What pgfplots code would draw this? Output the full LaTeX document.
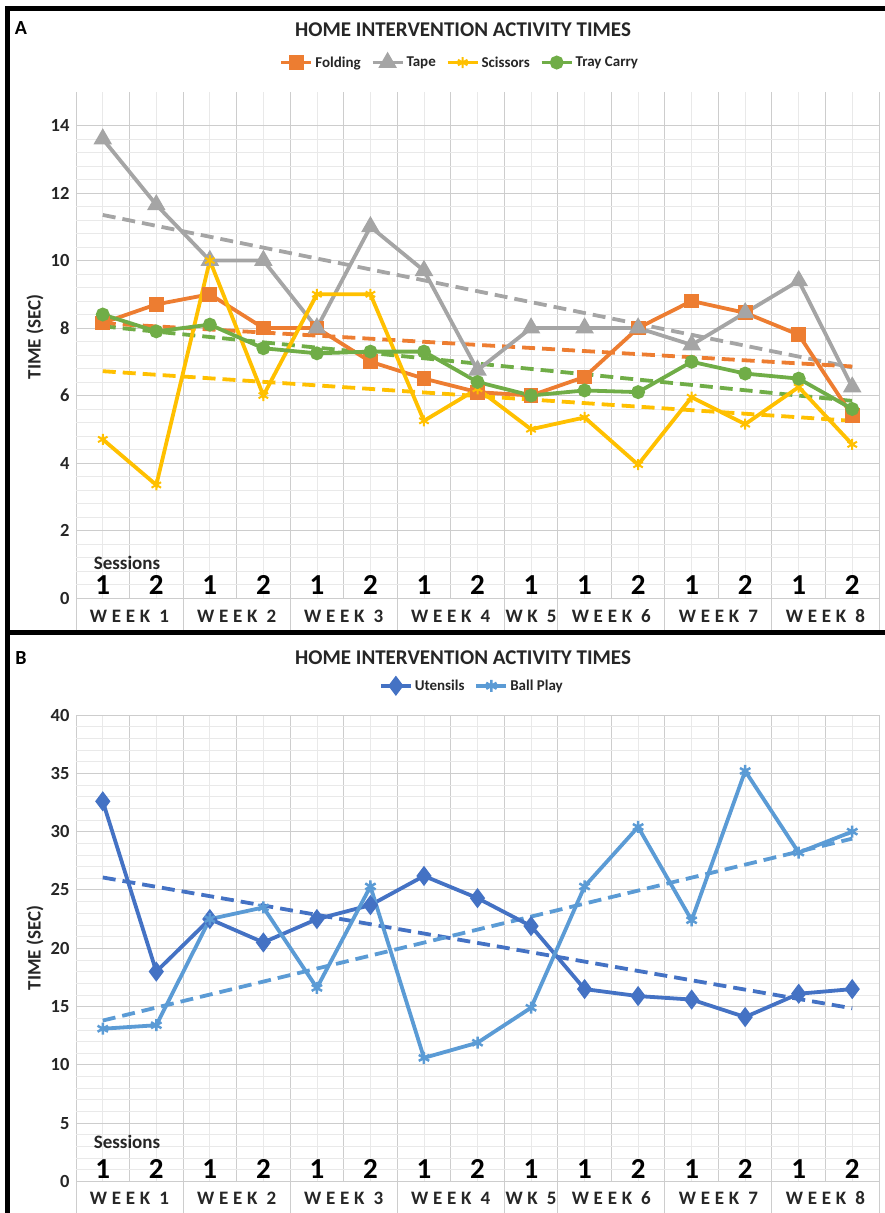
\documentclass[border=0pt]{standalone}
\usepackage{fontspec}
\setmainfont{Carlito}
\newfontfamily\weekfont[LetterSpace=25]{Carlito}
\usepackage{pgfplots}
\usepackage{pgfplotstable}
\pgfplotsset{compat=1.18}

\definecolor{cFold}{HTML}{ED7D31}
\definecolor{cTape}{HTML}{A5A5A5}
\definecolor{cSci}{HTML}{FFC000}
\definecolor{cTray}{HTML}{70AD47}
\definecolor{cUt}{HTML}{4472C4}
\definecolor{cBall}{HTML}{5B9BD5}
\definecolor{gridmaj}{HTML}{CDCDCD}
\definecolor{gridmin}{HTML}{E9E9E9}

\pgfplotstableread{
x fold tape sci tray
0  8.15 13.6  4.7  8.4
1  8.7  11.65 3.35 7.9
2  9.0  10.0 10.0  8.1
3  8.0  10.0  6.0  7.4
4  8.0   8.0  9.0  7.25
5  7.0  11.0  9.0  7.3
6  6.5   9.7  5.25 7.3
7  6.1   6.75 6.2  6.4
8  6.0   8.0  5.0  6.0
9  6.55  8.0  5.35 6.15
10 8.0   8.0  3.95 6.1
11 8.8   7.5  5.95 7.0
12 8.45  8.45 5.15 6.65
13 7.8   9.4  6.25 6.5
14 5.4   6.25 4.55 5.6
}\dataA

\pgfplotstableread{
x uten ball
0  32.6 13.1
1  18.0 13.4
2  22.5 22.5
3  20.5 23.5
4  22.5 16.6
5  23.7 25.3
6  26.2 10.6
7  24.3 11.9
8  21.9 14.9
9  16.5 25.3
10 15.9 30.4
11 15.6 22.4
12 14.1 35.2
13 16.1 28.2
14 16.5 30.0
}\dataB

\pgfplotsset{
  panel/.style={
    scale only axis, width=803pt,
    xmin=-0.5, xmax=14.5, ymin=0,
    clip=false,
    axis line style={draw=none},
    major tick length=0pt, minor tick length=0pt,
    xtick={-0.5,0.5,...,14.5}, xticklabels={},
    minor xtick={0,1,...,14},
    xmajorgrids, xminorgrids, ymajorgrids, yminorgrids,
    major grid style={gridmaj, line width=1pt},
    minor grid style={gridmin, line width=0.8pt},
    /pgf/number format/assume math mode=true,
    yticklabel style={font=\bfseries\fontsize{18.5}{18.5}\selectfont, text=black!85, xshift=-3pt},
    legend columns=-1,
    legend image code/.code={\draw[mark repeat=2,mark phase=2] plot coordinates {(0pt,0pt)(15pt,0pt)(30pt,0pt)};},
    legend style={draw=none, fill=none, font=\bfseries\fontsize{15}{15}\selectfont, text=black!85,
      /tikz/every even column/.append style={column sep=8pt}},
  },
  trend/.style={line width=3.8pt, dash pattern=on 13pt off 7pt, forget plot},
  ser/.style={line width=3.8pt, mark options={solid}},
}

\newcommand{\sessionlabels}[1]{%
  \pgfplotsinvokeforeach{0,2,4,6,8,9,11,13}{\node[anchor=base, inner sep=0pt, yshift=#1, font=\bfseries\fontsize{29}{29}\selectfont] at (axis cs:##1,0) {1};}%
  \pgfplotsinvokeforeach{1,3,5,7,10,12,14}{\node[anchor=base, inner sep=0pt, yshift=#1, font=\bfseries\fontsize{29}{29}\selectfont] at (axis cs:##1,0) {2};}%
}
\newcommand{\weeklabels}[2]{%
  \pgfplotsinvokeforeach{-0.5,1.5,3.5,5.5,7.5,8.5,10.5,12.5,14.5}{\draw[gridmaj, line width=1pt] (axis cs:##1,0) -- ++(0pt,-#2);}%
  \node[font=\weekfont\bfseries\fontsize{19}{19}\selectfont, yshift=#1, text=black!85] at (axis cs:0.5,0) {WEEK 1};
  \node[font=\weekfont\bfseries\fontsize{19}{19}\selectfont, yshift=#1, text=black!85] at (axis cs:2.5,0) {WEEK 2};
  \node[font=\weekfont\bfseries\fontsize{19}{19}\selectfont, yshift=#1, text=black!85] at (axis cs:4.5,0) {WEEK 3};
  \node[font=\weekfont\bfseries\fontsize{19}{19}\selectfont, yshift=#1, text=black!85] at (axis cs:6.5,0) {WEEK 4};
  \node[font=\weekfont\bfseries\fontsize{19}{19}\selectfont, yshift=#1, text=black!85] at (axis cs:8,0) {WK 5};
  \node[font=\weekfont\bfseries\fontsize{19}{19}\selectfont, yshift=#1, text=black!85] at (axis cs:9.5,0) {WEEK 6};
  \node[font=\weekfont\bfseries\fontsize{19}{19}\selectfont, yshift=#1, text=black!85] at (axis cs:11.5,0) {WEEK 7};
  \node[font=\weekfont\bfseries\fontsize{19}{19}\selectfont, yshift=#1, text=black!85] at (axis cs:13.5,0) {WEEK 8};
}

\begin{document}
\begin{tikzpicture}
\path[use as bounding box] (0pt,0pt) rectangle (885pt,-1213pt);

% ---------------- Panel A ----------------
\begin{axis}[panel, at={(76pt,-598pt)}, anchor=south west,
  height=506.25pt, ymax=15, ytick={0,2,...,14}, minor y tick num=4,
  legend style={at={(0.478,1)}, anchor=south, yshift=19pt}]
\addplot[cTape, trend] coordinates {(0,11.35) (14,6.83)};
\addplot[cFold, trend] coordinates {(0,8.14) (14,6.86)};
\addplot[cSci, trend] coordinates {(0,6.72) (14,5.25)};
\addplot[cTray, trend] coordinates {(0,8.05) (14,5.84)};
\addplot[cFold, ser, mark=square*, mark size=5.5pt] table[x=x,y=fold]{\dataA};
\addlegendentry{Folding}
\addplot[cTape, ser, mark=triangle*, mark size=7pt] table[x=x,y=tape]{\dataA};
\addlegendentry{Tape}
\addplot[cSci, ser, mark=asterisk, mark size=5.5pt, mark options={line width=2pt}] table[x=x,y=sci]{\dataA};
\addlegendentry{Scissors}
\addplot[cTray, ser, mark=*, mark size=5pt] table[x=x,y=tray]{\dataA};
\addlegendentry{Tray Carry}
\node[anchor=base west, inner sep=0pt, yshift=29pt, font=\bfseries\fontsize{19}{19}\selectfont, text=black!85] at (axis cs:-0.17,0) {Sessions};
\sessionlabels{4pt}
\weeklabels{-18.5pt}{34pt}
\end{axis}

% ---------------- Panel B ----------------
\begin{axis}[panel, at={(76pt,-1181.5pt)}, anchor=south west,
  height=466.5pt, ymax=40, ytick={0,5,...,40}, minor y tick num=4,
  legend style={at={(0.493,1)}, anchor=south, yshift=19pt}]
\addplot[cUt, trend] coordinates {(0,26.07) (14,14.85)};
\addplot[cBall, trend] coordinates {(0,13.8) (14,29.4)};
\addplot[cUt, ser, mark=diamond*, mark size=7pt] table[x=x,y=uten]{\dataB};
\addlegendentry{Utensils}
\addplot[cBall, ser, mark=asterisk, mark size=6pt, mark options={line width=2.5pt}] table[x=x,y=ball]{\dataB};
\addlegendentry{Ball Play}
\node[anchor=base west, inner sep=0pt, yshift=33pt, font=\bfseries\fontsize{19}{19}\selectfont, text=black!85] at (axis cs:-0.17,0) {Sessions};
\sessionlabels{3pt}
\weeklabels{-16.5pt}{32pt}
\end{axis}

% ---------------- Titles, labels, frame ----------------
\node[font=\bfseries\fontsize{21}{21}\selectfont, text=black!85] at (463pt,-30pt) {HOME INTERVENTION ACTIVITY TIMES};
\node[font=\bfseries\fontsize{21}{21}\selectfont, text=black!85] at (463pt,-658pt) {HOME INTERVENTION ACTIVITY TIMES};
\node[font=\bfseries\fontsize{19}{19}\selectfont, rotate=90, text=black!85] at (35pt,-337pt) {TIME (SEC)};
\node[font=\bfseries\fontsize{19}{19}\selectfont, rotate=90, text=black!85] at (35pt,-948pt) {TIME (SEC)};
\node[font=\bfseries\fontsize{20}{20}\selectfont] at (21pt,-28pt) {A};
\node[font=\bfseries\fontsize{20}{20}\selectfont] at (21pt,-658pt) {B};
\draw[line width=5pt] (7pt,-1213pt) -- (7pt,-8.5pt) -- (885pt,-8.5pt);
\draw[line width=5pt] (7pt,-632pt) -- (885pt,-632pt);
\end{tikzpicture}
\end{document}
